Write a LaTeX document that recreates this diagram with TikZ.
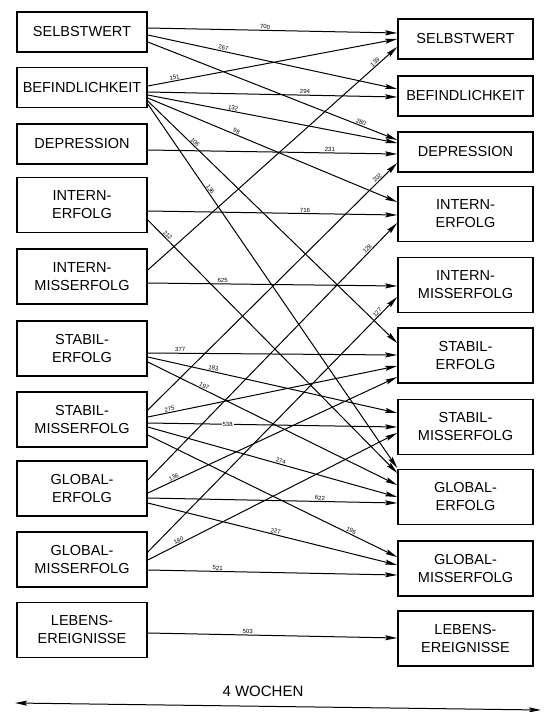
\documentclass[tikz,border=0pt]{standalone}
\usepackage{fontspec}
\setmainfont{Liberation Sans}
\usetikzlibrary{arrows.meta}
\begin{document}
\begin{tikzpicture}[x=1pt,y=-1pt,
 box/.style={draw,line width=1.6pt,minimum height=40pt,inner sep=0pt,align=center,font=\fontsize{14.5}{18}\selectfont},
 lbox/.style={box,minimum width=130pt},
 rbox/.style={box,minimum width=135pt},
 tall/.style={minimum height=55pt},
 conn/.style={line width=1pt,-{Stealth[length=12pt,width=5pt,inset=2pt]}},
 lbl/.style={font=\fontsize{6}{6}\selectfont,sloped,above,inner sep=0.8pt},
 span/.style={line width=1pt,{Stealth[length=12pt,width=5pt,inset=2pt]}-{Stealth[length=12pt,width=5pt,inset=2pt]}}]
\useasboundingbox (0,0) rectangle (544,712);
% left column
\node[lbox] (L1) at (82,32) {SELBSTWERT};
\node[lbox] (L2) at (82,87.5) {BEFINDLICHKEIT};
\node[lbox] (L3) at (82,144) {DEPRESSION};
\node[lbox,tall] (L4) at (82,205) {INTERN-\\ERFOLG};
\node[lbox,tall] (L5) at (82,276.5) {INTERN-\\MISSERFOLG};
\node[lbox,tall] (L6) at (82,348.5) {STABIL-\\ERFOLG};
\node[lbox,tall] (L7) at (82,419.5) {STABIL-\\MISSERFOLG};
\node[lbox,tall] (L8) at (82,488.5) {GLOBAL-\\ERFOLG};
\node[lbox,tall] (L9) at (82,559.5) {GLOBAL-\\MISSERFOLG};
\node[lbox,tall] (L10) at (82,630) {LEBENS-\\EREIGNISSE};
% right column
\node[rbox] (R1) at (465.5,39) {SELBSTWERT};
\node[rbox] (R2) at (465.5,96) {BEFINDLICHKEIT};
\node[rbox] (R3) at (465.5,152) {DEPRESSION};
\node[rbox,tall] (R4) at (465.5,214) {INTERN-\\ERFOLG};
\node[rbox,tall] (R5) at (465.5,285) {INTERN-\\MISSERFOLG};
\node[rbox,tall] (R6) at (465.5,355.5) {STABIL-\\ERFOLG};
\node[rbox,tall] (R7) at (465.5,427) {STABIL-\\MISSERFOLG};
\node[rbox,tall] (R8) at (465.5,497) {GLOBAL-\\ERFOLG};
\node[rbox,tall] (R9) at (465.5,568.5) {GLOBAL-\\MISSERFOLG};
\node[rbox,tall] (R10) at (465.5,638.5) {LEBENS-\\EREIGNISSE};
% connectors
\draw[conn] (L1.east |- 0,28) -- node[lbl,pos=0.47]{700} (R1.west |- 0,33);
\draw[conn] (L1.east |- 0,35) -- node[lbl,pos=0.30]{267} (R2.west |- 0,89);
\draw[conn] (L1.east |- 0,42) -- node[lbl,pos=0.85]{280} (R3.west |- 0,140);
\draw[conn] (L2.east |- 0,86) -- node[lbl,pos=0.11]{151} (R1.west |- 0,39);
\draw[conn] (L2.east |- 0,92) -- node[lbl,pos=0.63]{294} (R2.west |- 0,97);
\draw[conn] (L2.east |- 0,95) -- node[lbl,pos=0.34]{132} (R3.west |- 0,143);
\draw[conn] (L2.east |- 0,98) -- node[lbl,pos=0.35]{98} (R4.west |- 0,202);
\draw[conn] (L2.east |- 0,101) -- node[lbl,pos=0.18]{106} (R6.west |- 0,343);
\draw[conn] (L2.east |- 0,104) -- node[lbl,pos=0.24]{136} (R8.west |- 0,468);
\draw[conn] (L3.east |- 0,150) -- node[lbl,pos=0.73]{231} (R3.west |- 0,154);
\draw[conn] (L4.east |- 0,211) -- node[lbl,pos=0.63]{716} (R4.west |- 0,215);
\draw[conn] (L4.east |- 0,220) -- node[lbl,pos=0.07]{212} (R8.west |- 0,473);
\draw[conn] (L5.east |- 0,270) -- node[lbl,pos=0.92]{139} (R1.west |- 0,47);
\draw[conn] (L5.east |- 0,283) -- node[lbl,pos=0.30]{625} (R5.west |- 0,286);
\draw[conn] (L6.east |- 0,353) -- node[lbl,pos=0.13]{377} (R6.west |- 0,355);
\draw[conn] (L6.east |- 0,357) -- node[lbl,pos=0.26]{183} (R7.west |- 0,413);
\draw[conn] (L6.east |- 0,362) -- node[lbl,pos=0.22]{197} (R8.west |- 0,485);
\draw[conn] (L7.east |- 0,410) -- node[lbl,pos=0.93]{202} (R3.west |- 0,163);
\draw[conn] (L7.east |- 0,417) -- node[lbl,pos=0.09]{275} (R6.west |- 0,366);
\draw[conn] (L7.east |- 0,423) -- node[pos=0.32,fill=white,font=\fontsize{6}{6}\selectfont,inner sep=1pt]{538} (R7.west |- 0,427);
\draw[conn] (L7.east |- 0,427) -- node[lbl,pos=0.53]{274} (R8.west |- 0,497);
\draw[conn] (L7.east |- 0,435) -- node[lbl,pos=0.81]{196} (R9.west |- 0,557);
\draw[conn] (L8.east |- 0,480) -- node[lbl,pos=0.89]{128} (R4.west |- 0,223);
\draw[conn] (L8.east |- 0,493) -- node[lbl,pos=0.11]{136} (R6.west |- 0,377);
\draw[conn] (L8.east |- 0,498) -- node[lbl,pos=0.69]{622} (R8.west |- 0,503);
\draw[conn] (L8.east |- 0,503) -- node[lbl,pos=0.51]{227} (R9.west |- 0,565);
\draw[conn] (L9.east |- 0,552) -- node[lbl,pos=0.93]{127} (R5.west |- 0,297);
\draw[conn] (L9.east |- 0,560) -- node[lbl,pos=0.13]{180} (R7.west |- 0,433);
\draw[conn] (L9.east |- 0,570) -- node[lbl,pos=0.28]{521} (R9.west |- 0,575);
\draw[conn] (L10.east |- 0,633) -- node[lbl,pos=0.40]{503} (R10.west |- 0,638);
% time span
\node[font=\fontsize{15}{18}\selectfont] (wochen) at (263,691) {4 WOCHEN};
\coordinate (sl) at (15,703);
\coordinate (sr) at (541,710);
\draw[span] (sl) -- (sr);
\end{tikzpicture}
\end{document}
